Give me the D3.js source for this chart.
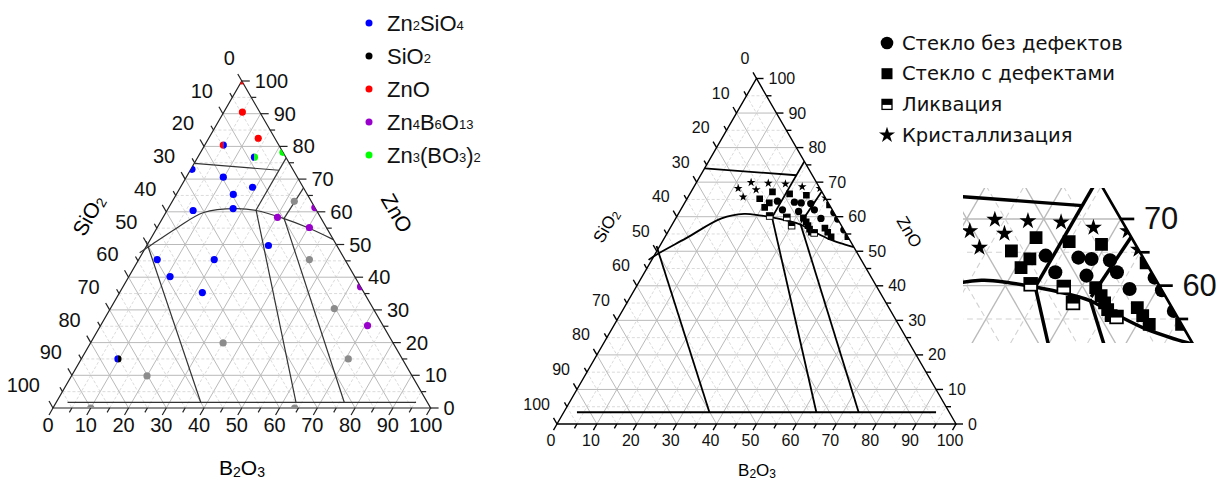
<!DOCTYPE html>
<meta charset="utf-8">
<style>
  body { margin: 0; background: #fff; }
  svg { font-family: 'Liberation Sans', Arial, sans-serif; }
</style>
<script src="https://d3js.org/d3.v7.min.js"></script>
<body>
<svg id="chart" width="1222" height="481"></svg>
<script>

// ---------- data: compositions as [ZnO, B2O3] in mol %, SiO2 is the rest ----------

// left diagram: phases found
var phaseNames = ["Zn2SiO4", "SiO2", "ZnO", "Zn4B6O13", "Zn3(BO3)2"];
var zn2sio4Pts = [[73, 0.3], [70.6, 9.8], [67.5, 19.1], [65.3, 15.1], [61, 17.2], [60.4, 6.9],
                  [49.7, 32.2], [45.4, 4.9], [45.4, 20], [40.2, 10.9], [35.3, 21.9]];
var znoPts = [[100, 0], [90.5, 4.9], [82.5, 13.1]];
var zn3bo32Pts = [[78.2, 21.8]];
var zn4b6o13Pts = [[58.3, 30.3], [61.3, 38.7], [55.2, 40.3], [37.1, 62.9], [25.2, 70.7]];
var otherPts = [[63.2, 32.3], [45.4, 45.2], [30.4, 59.3], [19.9, 35.1], [15, 70.7], [0, 64], [9.8, 20], [0, 10]];
var mixedPts = [[80.4, 4.9], [76.7, 15], [15, 9.7]];
var mixedPhases = [["ZnO", "Zn2SiO4"], ["Zn2SiO4", "Zn3(BO3)2"], ["Zn2SiO4", "SiO2"]];

// left diagram: field boundaries
var leftBounds = [
  {pts: [[74.8, 0], [72.7, 23.5]]},
  {pts: [[76.5, 23.5], [60.4, 23.5]]},
  {pts: [[67.3, 32.7], [58, 32.2]]},
  {pts: [[47.5, -0.8], [49.5, 0.8], [55, 5.2], [59.8, 10], [61, 18], [60.4, 23.6], [58, 32], [55.2, 39.8], [51.5, 48.5]], smooth: true},
  {pts: [[51, -0.8], [1.7, 38.3]]},
  {pts: [[60.4, 23.6], [1.7, 63.5]]},
  {pts: [[58, 32.2], [1.7, 76.3]]},
  {pts: [[1.7, 3], [1.7, 95.3]]}
];

// right diagram: glass state
var stateNames = ["Стекло без дефектов", "Стекло с дефектами", "Ликвация", "Кристаллизация"];
var glassOk = [[64.5, 23], [64.2, 27.4], [64, 29.2], [63.8, 31.7], [62, 25.5], [61.5, 29.8], [62, 33.5],
               [59.5, 36.4], [61.2, 38.8], [59.3, 40.7], [56.2, 43.8]];
var glassDefect = [[67.2, 20.4], [65.2, 18.2], [64, 21.2], [62.7, 20.7], [66.6, 25], [66.2, 29.4],
                   [59.7, 31.9], [58.5, 33.2], [57.4, 34.2], [56.4, 35.1], [55.5, 36],
                   [56.7, 38.8], [55.5, 40.1], [54.2, 41.6], [63.4, 36.6], [54.2, 45.8]];
var liquation = [[60.2, 23.2], [59.8, 27.7], [57.4, 30.1], [55.3, 36.8]];
var crystal = [[68.2, 11.3], [69.9, 13.7], [67.8, 16], [65.7, 13.8], [69.7, 18.1], [69.5, 22.5],
               [68.7, 27.1], [68.2, 31.8], [65.4, 34.6]];

var rightBounds = [
  {pts: [[74, 0], [72, 24]]},
  {pts: [[76, 24], [59.8, 24]]},
  {pts: [[67.3, 32.7], [58.3, 32]]},
  {pts: [[47.5, -0.8], [49, 0.4], [53.8, 5.5], [59.5, 11.5], [60.8, 16.5], [60.4, 20.5], [59.8, 24], [58.8, 28.5],
         [57.8, 32], [55.7, 36.5], [53.5, 41.5], [52, 46], [51.2, 48.8]], smooth: true},
  {pts: [[51.5, -0.8], [3.4, 36.5]]},
  {pts: [[59.8, 24], [3.4, 63.3]]},
  {pts: [[58, 32], [3.4, 73.9]]},
  {pts: [[3.4, 3.3], [3.4, 93.3]]}
];

var tickValues = d3.range(0, 101, 5);
var insetLabels = [60, 70];

var phaseColor = d3.scaleOrdinal(phaseNames, ["#0000ff", "#000000", "#ff0000", "#9900cc", "#00ff00"]);

var svg = d3.select("#chart");

// add formula text with subscripts
function chem(sel, s, subSize, shift) {
  s.split(/(\d+)/).forEach(function(part, i) {
    if (!part) return;
    var t = sel.append("tspan").text(part);
    if (i % 2) t.attr("font-size", subSize).attr("dy", shift);
    else if (i > 0) t.attr("dy", -shift);
  });
}

// draws triangle, grid, ticks, labels, boundary lines; returns projection + clipped group
function drawChart(g, c) {
  var x = d3.scaleLinear().domain([0, 100]).range([c.L[0], c.R[0]]);
  var y = d3.scaleLinear().domain([0, 100]).range([c.L[1], c.T[1]]);
  var p = function(z, b) { return [x(b + z / 2), y(z)]; };
  var line = d3.line().x(function(d) { return p(d[0], d[1])[0]; })
                      .y(function(d) { return p(d[0], d[1])[1]; });

  // grid
  var segs = [];
  d3.range(5, 100, 5).forEach(function(v) {
    segs.push({v: v, a: [v, 0], b: [v, 100 - v]});        // ZnO = const
    segs.push({v: v, a: [100 - v, 0], b: [0, 100 - v]});  // SiO2 = const
    segs.push({v: v, a: [0, v], b: [100 - v, v]});        // B2O3 = const
  });
  g.append("g").selectAll("path").data(segs).join("path")
    .attr("d", function(d) { return line([d.a, d.b]); })
    .attr("fill", "none")
    .attr("stroke", function(d) { return d.v % 10 ? "#d2d2d2" : "#bababa"; })
    .attr("stroke-width", function(d) { return (d.v % 10 ? 0.8 : 1) * c.gridW; })
    .attr("stroke-dasharray", function(d) { return d.v % 10 ? "3,2" : null; });

  // triangle
  g.append("path")
    .attr("d", line([[0, 0], [0, 100], [100, 0]]) + "Z")
    .attr("fill", "none").attr("stroke", c.frameColor).attr("stroke-width", c.frameW);

  var axes = [
    {pos: function(v) { return p(100 - v, 0); }, dir: [-0.5, -0.866], name: "l"},
    {pos: function(v) { return p(v, 100 - v); }, dir: [1, 0], name: "r"},
    {pos: function(v) { return p(0, v); }, dir: [-0.5, 0.866], name: "b"}
  ];
  axes.forEach(function(ax) {
    g.append("g").selectAll("line").data(tickValues).join("line")
      .attr("x1", function(v) { return ax.pos(v)[0]; })
      .attr("y1", function(v) { return ax.pos(v)[1]; })
      .attr("x2", function(v) { return ax.pos(v)[0] + ax.dir[0] * (v % 10 ? c.tickMinor : c.tickMajor); })
      .attr("y2", function(v) { return ax.pos(v)[1] + ax.dir[1] * (v % 10 ? c.tickMinor : c.tickMajor); })
      .attr("stroke", c.frameColor).attr("stroke-width", c.frameW);

    if (c.labelAxes.indexOf(ax.name) < 0) return;
    var labs = g.append("g").attr("font-size", c.fs).attr("fill", "#111")
      .selectAll("text").data(c.labelValues).join("text")
      .attr("dominant-baseline", "central")
      .text(function(v) { return v; });
    if (ax.name === "l") {
      labs.attr("text-anchor", "end")
        .attr("x", function(v) { return ax.pos(v)[0] - c.labL[0] - c.labL[2] * (String(v).length - 1); })
        .attr("y", function(v) { return ax.pos(v)[1] - c.labL[1]; });
    } else if (ax.name === "r") {
      labs.attr("text-anchor", "start")
        .attr("x", function(v) { return ax.pos(v)[0] + c.labR; })
        .attr("y", function(v) { return ax.pos(v)[1]; });
    } else {
      labs.attr("text-anchor", "middle")
        .attr("x", function(v) { return ax.pos(v)[0] - c.labB[0]; })
        .attr("y", function(v) { return ax.pos(v)[1] + c.labB[1]; });
    }
  });

  // boundaries
  var smoothLine = d3.line().curve(d3.curveCatmullRom.alpha(0.5))
    .x(function(d) { return p(d[0], d[1])[0]; }).y(function(d) { return p(d[0], d[1])[1]; });
  g.append("g").selectAll("path").data(c.bounds).join("path")
    .attr("d", function(d) { return d.smooth ? smoothLine(d.pts) : line(d.pts); })
    .attr("fill", "none").attr("stroke", c.boundColor).attr("stroke-width", c.boundW);

  // clipped group for points
  var cp = g.append("clipPath").attr("id", c.clipId);
  cp.append("path").attr("d", line([[0, 0], [0, 100], [100, 0]]) + "Z");
  var pg = g.append("g").attr("clip-path", "url(#" + c.clipId + ")");
  return {p: p, g: pg};
}

var majorValues = tickValues.filter(function(v) { return v % 10 === 0; });

// ---------------- left diagram ----------------
var left = drawChart(svg.append("g"), {
  L: [53, 408], R: [430.6, 408], T: [241.8, 81],
  fs: 20, tickMajor: 8, tickMinor: 5, frameColor: "#222", frameW: 1.2, gridW: 1,
  labelAxes: ["l", "r", "b"], labelValues: majorValues,
  labL: [7, 23, 3], labR: 13, labB: [5, 17],
  bounds: leftBounds, boundColor: "#333", boundW: 1.2, clipId: "clipLeft"
});
var lp = left.p;
function dots(pts, col) {
  left.g.append("g").selectAll("circle").data(pts).join("circle")
    .attr("cx", function(d) { return lp(d[0], d[1])[0]; })
    .attr("cy", function(d) { return lp(d[0], d[1])[1]; })
    .attr("r", 3.6).attr("fill", col);
}
dots(otherPts, "#8c8c8c");
dots(zn2sio4Pts, phaseColor("Zn2SiO4"));
dots(znoPts, phaseColor("ZnO"));
dots(zn3bo32Pts, phaseColor("Zn3(BO3)2"));
dots(zn4b6o13Pts, phaseColor("Zn4B6O13"));
var halfArc = d3.arc().innerRadius(0).outerRadius(3.6);
mixedPts.forEach(function(d, i) {
  var xy = lp(d[0], d[1]);
  var hg = left.g.append("g").attr("transform", "translate(" + xy[0] + "," + xy[1] + ")");
  hg.append("path").attr("d", halfArc({startAngle: Math.PI, endAngle: 2 * Math.PI})).attr("fill", phaseColor(mixedPhases[i][0]));
  hg.append("path").attr("d", halfArc({startAngle: 0, endAngle: Math.PI})).attr("fill", phaseColor(mixedPhases[i][1]));
});

// left titles
var t1 = svg.append("text").attr("transform", "translate(88,215) rotate(-60)")
  .attr("text-anchor", "middle").attr("dominant-baseline", "central").attr("font-size", 21);
chem(t1, "SiO2", 14, 5);
svg.append("text").attr("transform", "translate(397,213) rotate(60)")
  .attr("text-anchor", "middle").attr("dominant-baseline", "central").attr("font-size", 21).text("ZnO");
var t3 = svg.append("text").attr("transform", "translate(242,467)")
  .attr("text-anchor", "middle").attr("dominant-baseline", "central").attr("font-size", 21);
chem(t3, "B2O3", 14, 5);

// left legend
var lg = svg.append("g").attr("transform", "translate(369,23)");
phaseNames.forEach(function(name, i) {
  var row = lg.append("g").attr("transform", "translate(0," + (i * 33) + ")");
  row.append("circle").attr("r", 3.5).attr("fill", phaseColor(name));
  var tx = row.append("text").attr("x", 18).attr("dominant-baseline", "central").attr("font-size", 22).attr("fill", "#111");
  chem(tx, name, 13, 2);
});

// ---------------- right diagram ----------------
function drawRight(g, suffix, labelAxes, labelValues, gridW) {
  var r = drawChart(g, {
    L: [557, 424], R: [956, 424], T: [756.5, 78.5],
    fs: 16, tickMajor: 7, tickMinor: 5, frameColor: "#000", frameW: 1.4, gridW: gridW,
    labelAxes: labelAxes, labelValues: labelValues,
    labL: [7, 20, 0], labR: 12, labB: [6, 16],
    bounds: rightBounds, boundColor: "#000", boundW: 1.8, clipId: "clipRight" + suffix
  });
  var rp = r.p;
  var sym = function(pts, type, size) {
    r.g.append("g").selectAll("path").data(pts).join("path")
      .attr("transform", function(d) { var q = rp(d[0], d[1]); return "translate(" + q[0] + "," + q[1] + ")"; })
      .attr("d", d3.symbol(type, size)).attr("fill", "#000");
  };
  sym(crystal, d3.symbolStar, 24);
  sym(glassDefect, d3.symbolSquare, 44);
  sym(glassOk, d3.symbolCircle, 42);
  var lq = r.g.append("g").selectAll("g").data(liquation).join("g")
    .attr("transform", function(d) { var q = rp(d[0], d[1]); return "translate(" + q[0] + "," + q[1] + ")"; });
  lq.append("rect").attr("x", -3.3).attr("y", -3.3).attr("width", 6.6).attr("height", 6.6)
    .attr("fill", "#fff").attr("stroke", "#000").attr("stroke-width", 0.9);
  lq.append("rect").attr("x", -3.3).attr("y", -3.3).attr("width", 6.6).attr("height", 3.6).attr("fill", "#000");
}
drawRight(svg.append("g"), "Main", ["l", "r", "b"], majorValues, 1);

var r1 = svg.append("text").attr("transform", "translate(606,226) rotate(-60)")
  .attr("text-anchor", "middle").attr("dominant-baseline", "central").attr("font-size", 17);
chem(r1, "SiO2", 12, 4);
svg.append("text").attr("transform", "translate(909,232) rotate(60)")
  .attr("text-anchor", "middle").attr("dominant-baseline", "central").attr("font-size", 17).text("ZnO");
var r3 = svg.append("text").attr("transform", "translate(757,470)")
  .attr("text-anchor", "middle").attr("dominant-baseline", "central").attr("font-size", 17);
chem(r3, "B2O3", 12, 4);

// magnified inset of the glass region
svg.append("clipPath").attr("id", "clipInset")
  .append("rect").attr("x", 963).attr("y", 188).attr("width", 259).attr("height", 155);
var inset = svg.append("g").attr("clip-path", "url(#clipInset)")
  .append("g").attr("transform", "translate(-454.8,-132.6) scale(1.93)");
drawRight(inset, "Inset", ["r"], insetLabels, 0.7);

// right legend
var rg = svg.append("g").attr("transform", "translate(887,43)");
stateNames.forEach(function(name, i) {
  var row = rg.append("g").attr("transform", "translate(0," + (i * 30.7) + ")");
  if (i === 0) row.append("circle").attr("r", 6.3).attr("fill", "#000");
  if (i === 1) row.append("rect").attr("x", -5.5).attr("y", -5.5).attr("width", 11).attr("height", 11).attr("fill", "#000");
  if (i === 2) {
    row.append("rect").attr("x", -5).attr("y", -5).attr("width", 10).attr("height", 10)
      .attr("fill", "#fff").attr("stroke", "#000").attr("stroke-width", 1.3);
    row.append("rect").attr("x", -5).attr("y", -5).attr("width", 10).attr("height", 5.5).attr("fill", "#000");
  }
  if (i === 3) row.append("path").attr("d", d3.symbol(d3.symbolStar, 80)).attr("fill", "#000");
  row.append("text").attr("x", 15).attr("dominant-baseline", "central")
    .attr("font-family", "'DejaVu Sans', sans-serif").attr("font-size", 19.5).attr("fill", "#111").text(name);
});

</script>
</body>
